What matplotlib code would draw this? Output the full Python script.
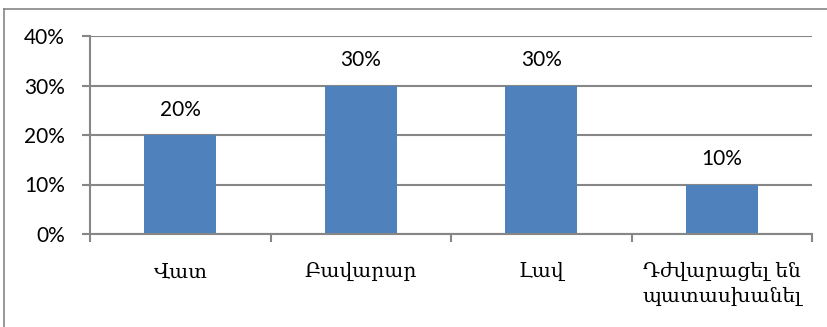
import matplotlib
matplotlib.use("Agg")
import matplotlib.pyplot as plt
from matplotlib.lines import Line2D
from matplotlib.ticker import FixedLocator, NullFormatter

categories = ["Վատ", "Բավարար", "Լավ", "Դժվարացել են\nպատասխանել"]
values = [20, 30, 30, 10]
y_ticks = [0, 10, 20, 30, 40]
y_tick_labels = ["0%", "10%", "20%", "30%", "40%"]

bar_color = "#4F81BD"
axis_gray = "#868686"
num_font = ["Lato", "DejaVu Sans"]
arm_font = ["DejaVu Serif", "DejaVu Sans"]

fig = plt.figure(figsize=(8.27, 3.27), dpi=100)
ax = fig.add_axes([90 / 827, 1 - 234 / 327, (812 - 90) / 827, (234 - 36) / 327])

x = list(range(len(categories)))
bars = ax.bar(x, values, width=0.4, color=bar_color, zorder=3)

ax.set_xlim(-0.5, len(categories) - 0.5)
ax.set_ylim(0, 40)

# gridlines
ax.set_yticks(y_ticks)
ax.set_yticklabels(y_tick_labels, family=num_font, fontsize=15)
ax.yaxis.grid(True, color=axis_gray, linewidth=1.5, zorder=0)
ax.tick_params(axis="y", length=6, width=1.5, color=axis_gray, pad=12)

# category boundaries as major ticks, labels on minor ticks
ax.xaxis.set_major_locator(FixedLocator([i - 0.5 for i in range(len(categories) + 1)]))
ax.xaxis.set_major_formatter(NullFormatter())
ax.xaxis.set_minor_locator(FixedLocator(x))
ax.set_xticklabels(categories, minor=True, family=arm_font, fontsize=14.5,
                   linespacing=1.4)
ax.tick_params(axis="x", which="major", length=6, width=1.5, color=axis_gray)
ax.tick_params(axis="x", which="minor", length=0, pad=20)

for side in ["top", "right"]:
    ax.spines[side].set_visible(False)
for side in ["left", "bottom"]:
    ax.spines[side].set_color(axis_gray)
    ax.spines[side].set_linewidth(1.5)
    ax.spines[side].set_zorder(4)

for b, v in zip(bars, values):
    ax.annotate(f"{v}%", (b.get_x() + b.get_width() / 2, v),
                xytext=(0, 11), textcoords="offset points",
                ha="center", va="bottom", family=num_font, fontsize=15)

# outer frame (left and top edges only visible)
fig.add_artist(Line2D([4 / 827, 4 / 827], [0, 1 - 9 / 327],
                      transform=fig.transFigure, color=axis_gray, linewidth=1.2))
fig.add_artist(Line2D([4 / 827, 1], [1 - 9 / 327, 1 - 9 / 327],
                      transform=fig.transFigure, color=axis_gray, linewidth=1.2))

fig.savefig("out.png", dpi=100)
